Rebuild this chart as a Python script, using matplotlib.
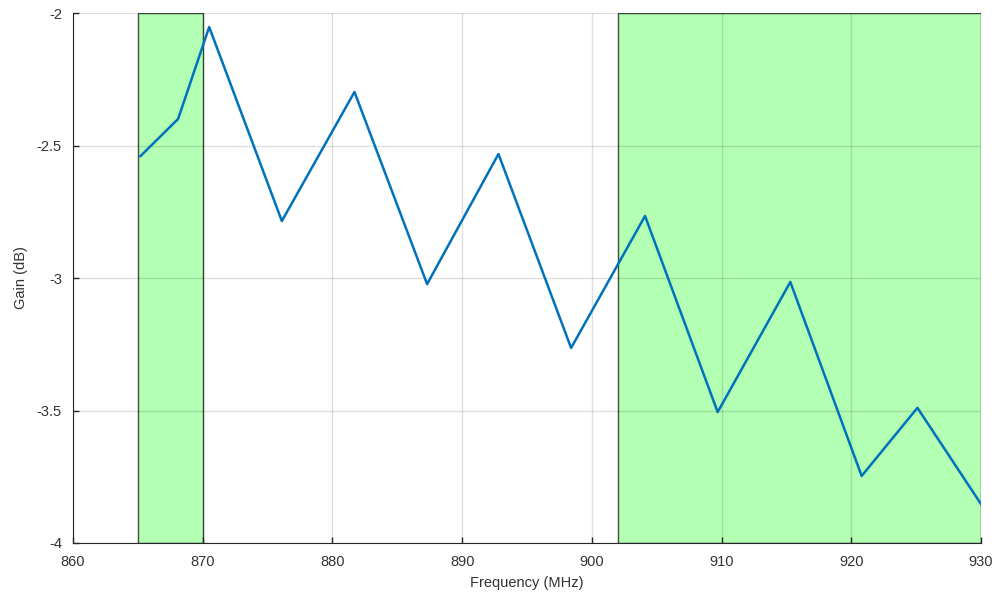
import numpy as np
import matplotlib.pyplot as plt
from matplotlib.patches import Rectangle

# measured gain across the band
freq = [865.2, 868.1, 870.5, 876.1, 881.7, 887.3, 892.8, 898.4,
        904.1, 909.7, 915.3, 920.8, 925.1, 930.0]
gain = [-2.54, -2.40, -2.053, -2.785, -2.298, -3.023, -2.532, -3.264,
        -2.766, -3.506, -3.015, -3.747, -3.49, -3.853]

# highlighted frequency bands (start, stop) in MHz
bands = [(865, 870), (902, 930)]

xticks = [860, 870, 880, 890, 900, 910, 920, 930]
yticks = [-4, -3.5, -3, -2.5, -2]
ytick_labels = ["-4", "-3.5", "-3", "-2.5", "-2"]

plt.rcParams['font.family'] = ['Liberation Sans', 'DejaVu Sans']

fig = plt.figure(figsize=(9.97, 5.98), dpi=100)
ax = fig.add_axes([73/997, 55/598, 908/997, 530/598])

for lo, hi in bands:
    ax.add_patch(Rectangle((lo, -4), hi - lo, 2, facecolor="#b3ffb3",
                           edgecolor="#3f4f3f", linewidth=1.0, zorder=1))

ax.plot(freq, gain, color="#0072bd", linewidth=1.8, zorder=3)

ax.set_xlim(860, 930)
ax.set_ylim(-4, -2)
ax.set_xticks(xticks)
ax.set_yticks(yticks)
ax.set_yticklabels(ytick_labels)
ax.grid(True, color="#000000", alpha=0.13, linewidth=1)

for s in ["top", "right"]:
    ax.spines[s].set_visible(False)
for s in ["left", "bottom"]:
    ax.spines[s].set_color("#262626")
    ax.spines[s].set_linewidth(0.8)
ax.tick_params(direction="in", length=4, width=1, colors="#262626",
               labelsize=10.5, labelcolor="#333333")
ax.tick_params(axis="x", pad=9)
ax.tick_params(axis="y", pad=8)

ax.set_xlabel("Frequency (MHz)", fontsize=10.5, color="#333333", labelpad=5)
ax.set_ylabel("Gain (dB)", fontsize=10.5, color="#333333", labelpad=6)

fig.savefig("out.png", dpi=100)
